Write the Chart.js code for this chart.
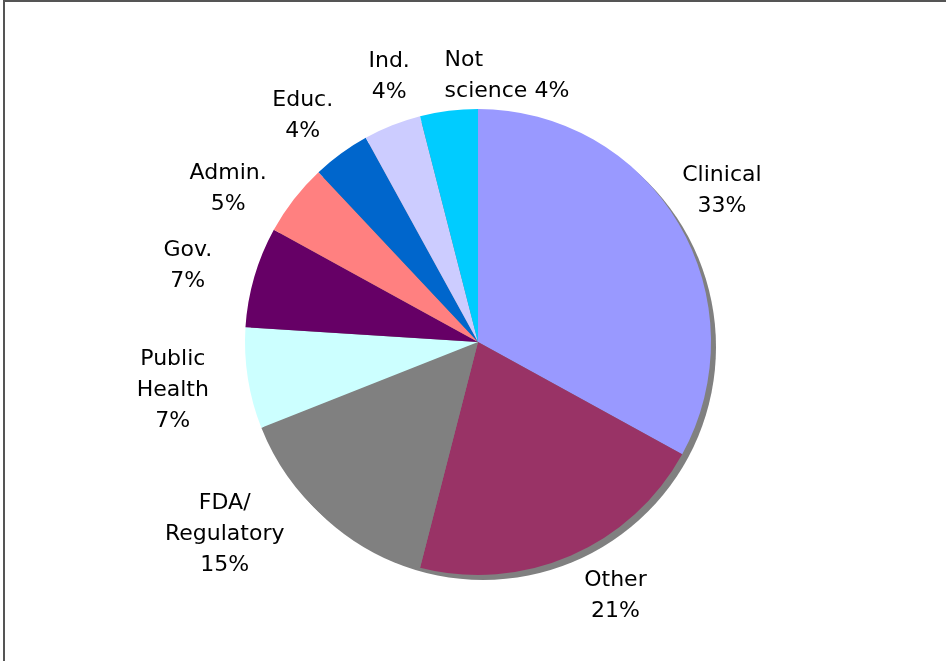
<!DOCTYPE html>
<html>
<head>
<meta charset="utf-8">
<script src="https://cdn.jsdelivr.net/npm/chart.js@4.4.0/dist/chart.umd.min.js"></script>
<style>
  html, body { margin: 0; padding: 0; background: #fff; }
  #wrap { position: relative; width: 946px; height: 661px; }
</style>
</head>
<body>
<div id="wrap"><canvas id="careerPie" width="946" height="661"></canvas></div>
<script>
// categories, clockwise from 12 o'clock ("\n" marks where the label wraps)
const categories = ["Clinical", "Other", "FDA/\nRegulatory", "Public\nHealth", "Gov.", "Admin.", "Educ.", "Ind.", "Not\nscience"];
const shares = [33, 21, 15, 7, 7, 5, 4, 4, 4];
const sliceColors = ["#9999FF", "#993366", "#808080", "#CCFFFF", "#660066", "#FF8080", "#0066CC", "#CCCCFF", "#00CCFF"];

// label placement: [angle nudge in degrees, gap beyond the rim in px]
const labelNudge = [[-1.2, 54], [-5, 56], [11.4, 85], [0, 76], [-1.5, 67], [-6.3, 60], [-1.8, 53], [3.1, 47], [13.4, 35]];
const labelAlign = ["center", "center", "center", "center", "center", "center", "center", "center", "left"];

const FONT = "22px 'DejaVu Sans', Verdana, sans-serif";
const LINE_H = 31;

// frame round the chart + drop shadow under the pie
const framePlugin = {
  id: "frame",
  beforeDraw(chart) {
    const ctx = chart.ctx;
    ctx.save();
    ctx.strokeStyle = "#555";
    ctx.lineWidth = 2;
    ctx.strokeRect(4, 1, 1000, 1000);
    ctx.restore();
  },
  beforeDatasetsDraw(chart) {
    const arc = chart.getDatasetMeta(0).data[0];
    if (!arc) return;
    const ctx = chart.ctx;
    ctx.save();
    ctx.fillStyle = "#808080";
    ctx.beginPath();
    ctx.arc(arc.x + 5, arc.y + 5, arc.outerRadius, 0, Math.PI * 2);
    ctx.fill();
    ctx.restore();
  }
};

// outside labels: name + percent, placed off each slice's mid angle
const labelPlugin = {
  id: "sliceLabels",
  afterDatasetsDraw(chart) {
    const ctx = chart.ctx;
    const arcs = chart.getDatasetMeta(0).data;
    const total = shares.reduce((a, b) => a + b, 0);
    ctx.save();
    ctx.font = FONT;
    ctx.fillStyle = "#000";
    ctx.textBaseline = "middle";
    arcs.forEach((arc, i) => {
      const pct = Math.round(shares[i] / total * 100) + "%";
      let lines = categories[i].split("\n");
      if (labelAlign[i] === "left") {
        lines[lines.length - 1] += " " + pct;
      } else {
        lines.push(pct);
      }
      const mid = (arc.startAngle + arc.endAngle) / 2 + labelNudge[i][0] * Math.PI / 180;
      const dist = arc.outerRadius + labelNudge[i][1];
      const cx = arc.x + Math.cos(mid) * dist;
      const cy = arc.y + Math.sin(mid) * dist;
      const y0 = cy - (lines.length - 1) * LINE_H / 2;
      if (labelAlign[i] === "left") {
        const w = Math.max(...lines.map(l => ctx.measureText(l).width));
        ctx.textAlign = "left";
        lines.forEach((l, k) => ctx.fillText(l, cx - w / 2, y0 + k * LINE_H));
      } else {
        ctx.textAlign = "center";
        lines.forEach((l, k) => ctx.fillText(l, cx, y0 + k * LINE_H));
      }
    });
    ctx.restore();
  }
};

new Chart(document.getElementById("careerPie"), {
  type: "pie",
  data: {
    labels: categories,
    datasets: [{
      data: shares,
      backgroundColor: sliceColors,
      borderWidth: 0
    }]
  },
  options: {
    responsive: false,
    animation: false,
    layout: { padding: { top: 109, bottom: 86, left: 245, right: 235 } },
    plugins: {
      legend: { display: false },
      tooltip: { enabled: false }
    }
  },
  plugins: [framePlugin, labelPlugin]
});
</script>
</body>
</html>
